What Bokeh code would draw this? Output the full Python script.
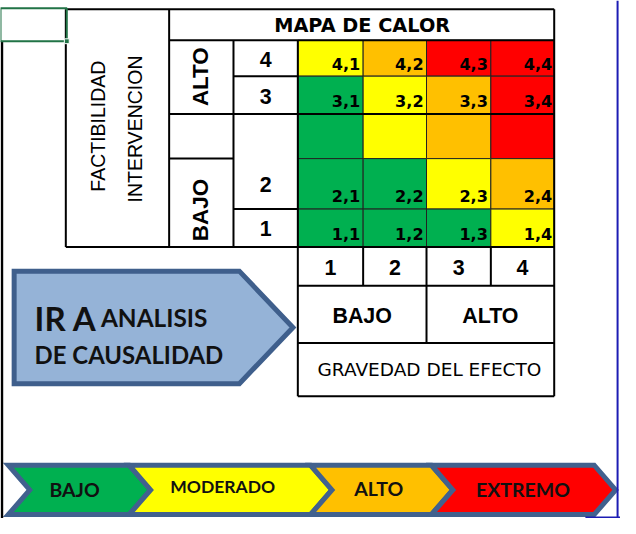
import math
from bokeh.plotting import figure
from bokeh.models import Range1d
from bokeh.core.properties import value
from bokeh.embed import file_html
from bokeh.resources import INLINE

# ---------------- data ----------------
title = "MAPA DE CALOR"
y_title = ["FACTIBILIDAD", "INTERVENCION"]
x_title = "GRAVEDAD DEL EFECTO"
x_groups = ["BAJO", "ALTO"]
y_groups = ["ALTO", "BAJO"]
severity = [1, 2, 3, 4]                    # columns (GRAVEDAD)
feasibility_rows = [4, 3, None, 2, 1]      # rows top->bottom, None = spacer row
levels = ["BAJO", "MODERADO", "ALTO", "EXTREMO"]
level_colors = ["#00B050", "#FFFF00", "#FFC000", "#FF0000"]
risk = [
    [1, 2, 3, 3],
    [0, 1, 2, 3],
    [0, 1, 2, 3],
    [0, 0, 1, 2],
    [0, 0, 0, 1],
]
arrow_text = ["IR A", "ANALISIS", "DE CAUSALIDAD"]

# ---------------- layout (reference pixel space) ----------------
W, H = 620, 518
SX = W / 636.0
COLS = [305, 372, 437, 503, 568]
ROWS = [41, 78, 117, 163, 215, 254]
BLACK = "#000000"
BAND = "#41618E"


def fs(px):
    return value(f"{px * SX:.1f}px")


p = figure(width=W, height=H, x_range=Range1d(0, 636), y_range=Range1d(534, 0),
           output_backend="svg", toolbar_location=None, min_border=0)
p.axis.visible = False
p.grid.visible = False
p.outline_line_color = None
p.background_fill_color = "white"
p.border_fill_color = "white"

# heat map cells
cl, cr, ct, cb, cc = [], [], [], [], []
lx, ly, lt = [], [], []
for r, row in enumerate(risk):
    for c, lv in enumerate(row):
        cl.append(COLS[c]); cr.append(COLS[c + 1])
        ct.append(ROWS[r]); cb.append(ROWS[r + 1])
        cc.append(level_colors[lv])
        f = feasibility_rows[r]
        if f is not None:
            lt.append(f"{f},{severity[c]}")
            lx.append(COLS[c + 1] - (2 if c == 3 else 3))
            ly.append(ROWS[r + 1] - 13)
p.quad(left=cl, right=cr, top=ct, bottom=cb, fill_color=cc,
       line_color="#222222", line_width=1)
p.text(x=lx, y=ly, text=lt, text_align="right", text_baseline="alphabetic",
       text_font=value("DejaVu Sans"), text_font_style="bold",
       text_font_size=fs(16.5), text_color=BLACK)

# table lines
segs = [
    (67, 9, 568, 9), (173, 41, 568, 41), (239, 78, 305, 78), (173, 117, 568, 117),
    (173, 163, 239, 163), (239, 215, 305, 215), (67, 254, 568, 254),
    (305, 294, 568, 294), (305, 353, 568, 353), (305, 408, 568, 408),
    (67, 9, 67, 254), (173, 9, 173, 254), (239, 41, 239, 254), (305, 41, 305, 408),
    (372, 254, 372, 294), (437, 254, 437, 353), (503, 254, 503, 294),
    (568, 9, 568, 408),
]
p.segment(x0=[s[0] for s in segs], y0=[s[1] for s in segs],
          x1=[s[2] for s in segs], y1=[s[3] for s in segs],
          line_color=BLACK, line_width=2)

# row numbers (feasibility)
rx, ry, rt = [], [], []
for r, f in enumerate(feasibility_rows):
    if f is not None:
        rx.append(272); ry.append((ROWS[r] + ROWS[r + 1]) / 2 + 1); rt.append(str(f))
p.text(x=rx, y=ry, text=rt, text_align="center", text_baseline="middle",
       text_font=value("Liberation Sans"), text_font_style="bold",
       text_font_size=fs(22), text_color=BLACK)

# column numbers (severity)
p.text(x=[(COLS[i] + COLS[i + 1]) / 2 for i in range(4)], y=[275] * 4,
       text=[str(s) for s in severity], text_align="center", text_baseline="middle",
       text_font=value("Liberation Sans"), text_font_style="bold",
       text_font_size=fs(22), text_color=BLACK)

# group labels
p.text(x=[371, 502.5], y=[325, 325], text=x_groups, text_align="center",
       text_baseline="middle", text_font=value("Liberation Sans"),
       text_font_style="bold", text_font_size=fs(22), text_color=BLACK)
p.text(x=[205, 205], y=[78.5, 216], text=y_groups, angle=math.pi / 2,
       text_align="center", text_baseline="middle",
       text_font=value("Liberation Sans"), text_font_style="bold",
       text_font_size=fs(23), text_color=BLACK)

# titles
p.text(x=[371], y=[25.5], text=[title], text_align="center", text_baseline="middle",
       text_font=value("DejaVu Sans"), text_font_style="bold",
       text_font_size=fs(19.8), text_color=BLACK)
p.text(x=[440], y=[380], text=[x_title], text_align="center", text_baseline="middle",
       text_font=value("DejaVu Sans"), text_font_size=fs(19), text_color=BLACK)
p.text(x=[100, 138], y=[129.5, 132.5], text=y_title, angle=math.pi / 2,
       text_align="center", text_baseline="middle",
       text_font=value("Liberation Sans"), text_font_size=fs(20), text_color=BLACK)

# arrow shape
p.patch(x=[14, 245, 300, 245, 14], y=[279, 279, 337, 395, 395],
        fill_color="#95B3D7", line_color="#3F5F8C", line_width=5, line_join="miter")
p.text(x=[35, 103, 35], y=[327, 327, 365], text=arrow_text, text_align="left",
       text_baseline="alphabetic", text_font=value("Lato"), text_font_style="bold",
       text_font_size=[f"{34 * SX:.1f}px", f"{25 * SX:.1f}px", f"{24.5 * SX:.1f}px"],
       text_color="#111111")

# bottom chevron legend
starts = [8, 132, 318, 442]
ends = [132, 318, 442, 609]
top, bot, d = 479, 530, 22
mid = (top + bot) / 2
xs, ys = [], []
for x0, x1 in zip(starts, ends):
    xs.append([x0, x1, x1 + d, x1, x0, x0 + d])
    ys.append([top, top, mid, bot, bot, mid])
p.patches(xs=xs, ys=ys, fill_color=level_colors, line_color=BAND, line_width=5,
          line_join="miter")
p.text(x=[76, 228, 388, 536], y=[504.5, 501, 503.5, 504.5], text=levels,
       text_align="center", text_baseline="middle", text_font=value("Lato"),
       text_font_style="bold",
       text_font_size=[f"{20 * SX:.1f}px", f"{18 * SX:.1f}px", f"{20 * SX:.1f}px", f"{20 * SX:.1f}px"],
       text_color="#111111")

# spreadsheet decorations
p.segment(x0=[1.5], y0=[42], x1=[1.5], y1=[534], line_color=BLACK, line_width=2.5)
p.quad(left=[0], right=[68], top=[8], bottom=[42], fill_color=None,
       line_color="#217346", line_width=2)
p.rect(x=[68], y=[42], width=5, height=5, fill_color="#217346", line_color="white",
       line_width=1)
p.segment(x0=[633, 600], y0=[0, 533], x1=[633, 636], y1=[534, 533],
          line_color="#1C1CB4", line_width=2)

open("out.html", "w").write(file_html(p, INLINE))
